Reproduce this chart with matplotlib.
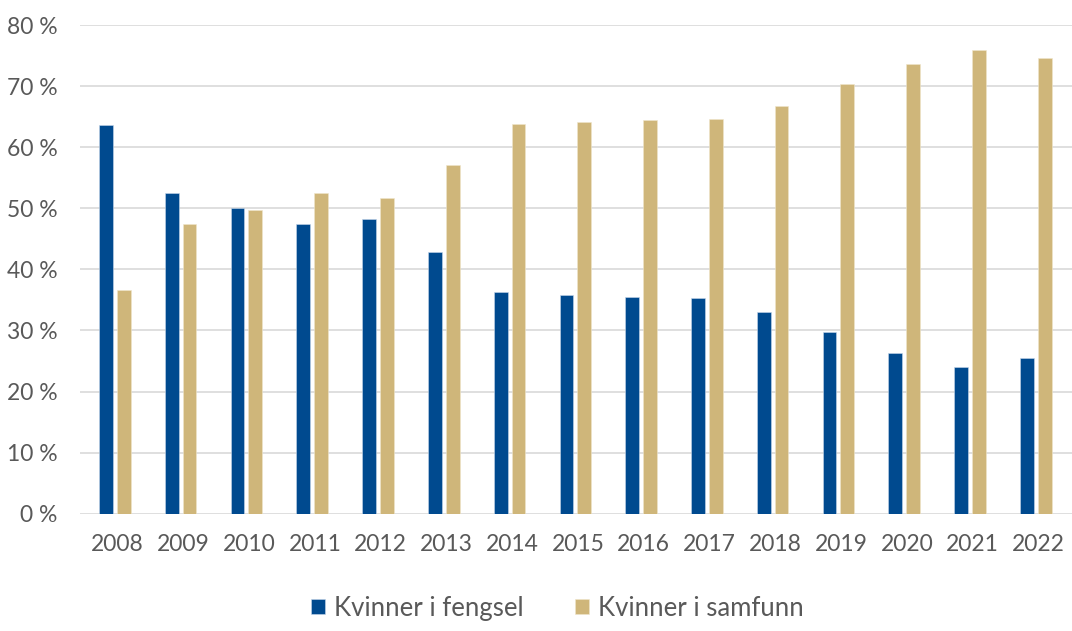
import numpy as np
import matplotlib
matplotlib.use("Agg")
import matplotlib.pyplot as plt

years = ["2008", "2009", "2010", "2011", "2012", "2013", "2014", "2015",
         "2016", "2017", "2018", "2019", "2020", "2021", "2022"]
fengsel = [63.6, 52.5, 50.0, 47.4, 48.2, 42.8, 36.3, 35.8, 35.5, 35.3,
           33.1, 29.8, 26.3, 24.1, 25.5]
samfunn = [36.6, 47.4, 49.8, 52.5, 51.7, 57.1, 63.8, 64.1, 64.4, 64.6,
           66.8, 70.3, 73.6, 76.0, 74.6]
yticks = [0, 10, 20, 30, 40, 50, 60, 70, 80]

blue = "#004a8f"
gold = "#cfb67a"
txt = "#595959"

plt.rcParams['font.family'] = ['Lato', 'DejaVu Sans']

fig = plt.figure(figsize=(10.72, 6.31), dpi=100)
ax = fig.add_axes([0.0746, 0.186, 0.9254, 0.774])

x = np.arange(len(years))
w = 0.21
ax.bar(x - 0.135, fengsel, w, color=blue, edgecolor="#c8d8ea", linewidth=0.4,
       label="Kvinner i fengsel", zorder=3)
ax.bar(x + 0.135, samfunn, w, color=gold, edgecolor="#efe5cc", linewidth=0.4,
       label="Kvinner i samfunn", zorder=3)

ax.set_xlim(-0.53, len(years) - 0.45)
ax.set_ylim(0, 80)
ax.set_yticks(yticks)
ax.set_yticklabels([f"{v} %" for v in yticks])
ax.set_xticks(x + 0.04)
ax.set_xticklabels(years)
ax.grid(axis="y", color="#d9d9d9", linewidth=1.2, zorder=0)
for s in ax.spines.values():
    s.set_visible(False)
ax.tick_params(axis="both", length=0, labelsize=16.5, labelcolor=txt)
ax.tick_params(axis="y", pad=16)
ax.tick_params(axis="x", pad=15)

# legend sits at the very bottom, kept just inside the figure
fig.legend(loc="lower center", bbox_to_anchor=(0.52, -0.012), ncol=2, frameon=False,
           fontsize=18.5, labelcolor=txt, handlelength=0.55, handleheight=0.55,
           handletextpad=0.35, columnspacing=2.0, borderpad=0.2)

fig.savefig("out.png", dpi=100)
